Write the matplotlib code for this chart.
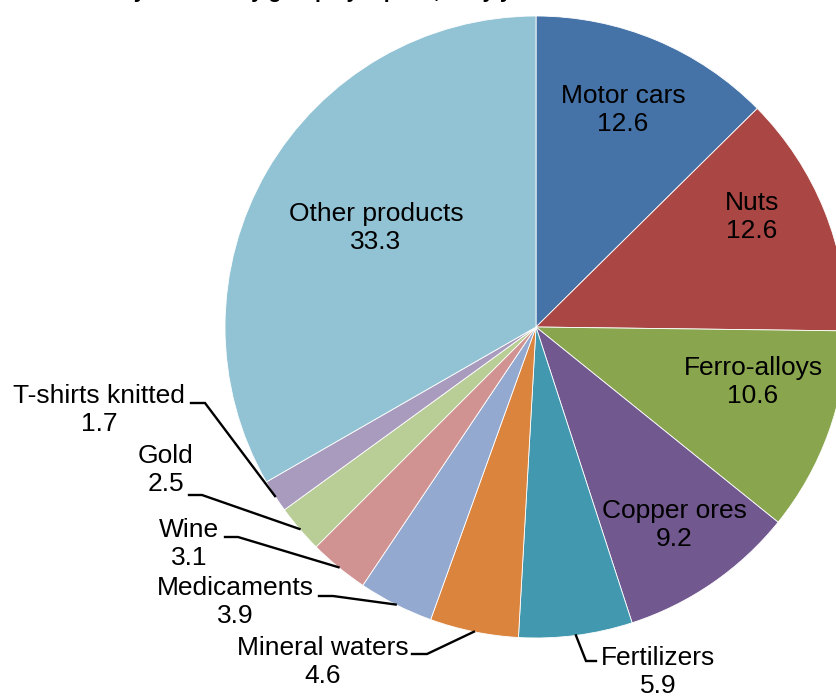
import numpy as np
import matplotlib
matplotlib.use("Agg")
import matplotlib.pyplot as plt

plt.rcParams['font.family'] = ['Liberation Sans', 'DejaVu Sans']

# data
products = ["Motor cars", "Nuts", "Ferro-alloys", "Copper ores", "Fertilizers",
            "Mineral waters", "Medicaments", "Wine", "Gold", "T-shirts knitted",
            "Other products"]
shares = [12.6, 12.6, 10.6, 9.2, 5.9, 4.6, 3.9, 3.1, 2.5, 1.7, 33.3]
colors = ["#4572A7", "#AA4643", "#89A54E", "#71588F", "#4198AF", "#DB843D",
          "#93A9CF", "#D19392", "#B9CD96", "#A99BBD", "#92C3D4"]
title = "Structure by commodity group by top ten, % by year"

W, H = 837, 696
# label layout in pixel coords (y down): text block centre, and for outside
# labels the leader line start and elbow
inside_pos = {"Motor cars": (623, 110), "Nuts": (752, 217),
              "Ferro-alloys": (753, 382), "Copper ores": (674, 525),
              "Other products": (376, 228)}
outside_pos = {"T-shirts knitted": ((99, 410), (191, 403), (205, 403)),
               "Gold": ((166, 470), (189, 495), (202, 495)),
               "Wine": ((189, 544), (225, 537), (238, 537)),
               "Medicaments": ((235, 602), (319, 596), (333, 596)),
               "Mineral waters": ((323, 662), (412, 654), (427, 654)),
               "Fertilizers": ((658, 672), (596, 661), (586, 661))}

fig = plt.figure(figsize=(W / 100, H / 100), dpi=100)
ax = fig.add_axes([0, 0, 1, 1])

cx, cy, R = 536, H - 327, 311
wedges, _ = ax.pie(shares, colors=colors, startangle=90, counterclock=False,
                   center=(cx, cy), radius=R,
                   wedgeprops=dict(edgecolor="white", linewidth=0.6))

fs = 19
for w, name, val in zip(wedges, products, shares):
    txt = f"{name}\n{val}"
    if name in inside_pos:
        x, y = inside_pos[name]
        ax.text(x, H - y, txt, ha="center", va="center", fontsize=fs,
                multialignment="center", linespacing=1.22)
    else:
        (tx, ty), (sx, sy), (ex, ey) = outside_pos[name]
        ang = np.deg2rad((w.theta1 + w.theta2) / 2)
        px, py = cx + R * np.cos(ang), cy + R * np.sin(ang)
        ax.plot([sx, ex, px], [H - sy, H - ey, py], color="black", lw=1.7,
                solid_joinstyle="miter")
        ax.text(tx, H - ty, txt, ha="center", va="center", fontsize=fs,
                multialignment="center", linespacing=1.22)

# title sits above the canvas; only its descenders show, as in the source
ax.text(22, H + 2, title, ha="left", va="baseline", fontsize=15,
        fontweight="bold")

ax.set_xlim(0, W)
ax.set_ylim(0, H)
ax.set_aspect("equal")
ax.set_axis_off()

fig.savefig("out.png", dpi=100)
